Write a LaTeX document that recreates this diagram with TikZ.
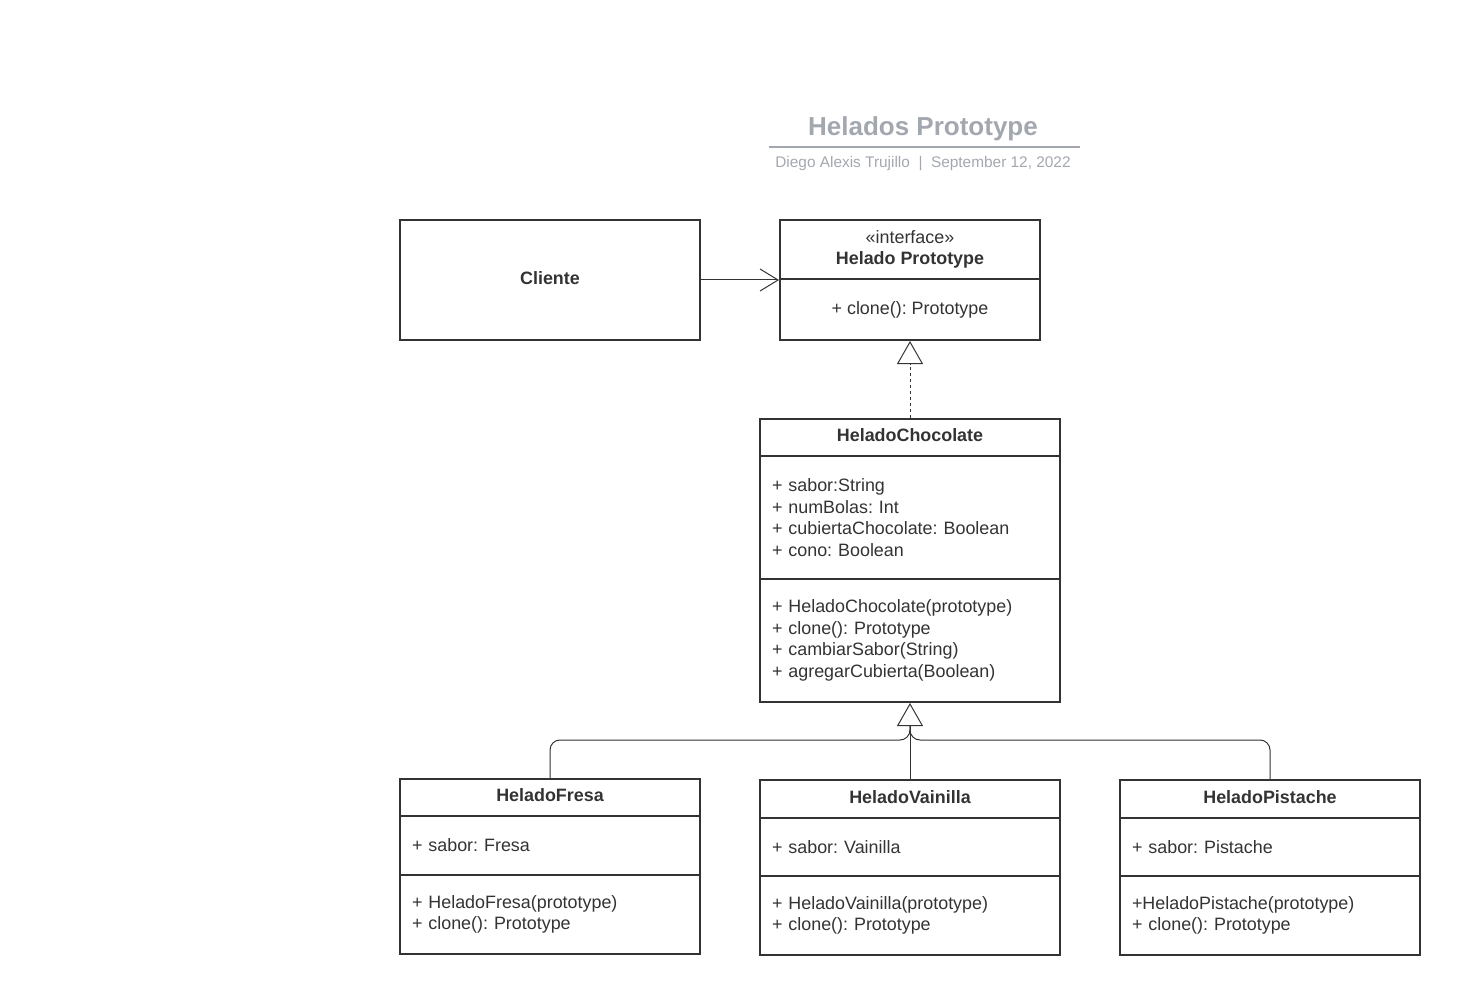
\documentclass[tikz,border=0pt]{standalone}
\usepackage{fontspec}
\setmainfont{Liberation Sans}
\frenchspacing
\usetikzlibrary{arrows.meta}
\definecolor{ink}{HTML}{333333}
\definecolor{titlegrey}{HTML}{A3A7AF}
\tikzset{
  every node/.style={text=ink, font=\fontsize{17.9}{21.6}\selectfont},
  part/.style={draw=ink, line width=2pt, minimum width=300pt, inner sep=0pt},
  head/.style={part, text depth=4pt, font=\fontsize{17.9}{21.6}\selectfont\bfseries},
  list/.style={part, text width=276pt, inner xsep=12pt, inner ysep=0pt, align=left},
  conn/.style={draw=ink, line width=1pt},
  realize/.style={-{Triangle[open, length=23pt, width=26pt]}},
}
\begin{document}
\begin{tikzpicture}[x=1pt,y=-1pt]
\useasboundingbox (0,0) rectangle (1460,995);

\node[text=titlegrey, font=\fontsize{26}{30}\selectfont\bfseries] (T1) at (923,129) {Helados Prototype};
\draw[titlegrey, line width=2pt] (769,147) -- (1080,147);
\node[text=titlegrey, font=\fontsize{15.4}{18}\selectfont] (T2) at (923,164) {Diego Alexis Trujillo \ | \ September 12, 2022};

\node[head, minimum height=120pt] (C1) at (550,280) {Cliente};

\node[head, minimum width=260pt, minimum height=59pt, align=center] (I1) at (910,249.5) {{\mdseries «interface»}\\Helado Prototype};
\node[part, minimum width=260pt, minimum height=61pt] (I2) at (910,309.5) {+ clone(): Prototype};

\node[head, minimum height=37pt] (H1) at (910,437.5) {HeladoChocolate};
\node[list, minimum height=123pt] (H2) at (910,517.5) {+ sabor:String\\+ numBolas: Int\\+ cubiertaChocolate: Boolean\\+ cono: Boolean};
\node[list, minimum height=123pt] (H3) at (910,640.5) {+ HeladoChocolate(prototype)\\+ clone(): Prototype\\+ cambiarSabor(String)\\+ agregarCubierta(Boolean)};

\node[head, minimum height=37pt] (F1) at (550,797.5) {HeladoFresa};
\node[list, minimum height=59pt] (F2) at (550,845.5) {+ sabor: Fresa};
\node[list, minimum height=79pt] (F3) at (550,914.5) {+ HeladoFresa(prototype)\\+ clone(): Prototype};

\node[head, minimum height=38pt] (V1) at (910,799) {HeladoVainilla};
\node[list, minimum height=58pt] (V2) at (910,847) {+ sabor: Vainilla};
\node[list, minimum height=79pt] (V3) at (910,915.5) {+ HeladoVainilla(prototype)\\+ clone(): Prototype};

\node[head, minimum height=38pt] (P1) at (1270,799) {HeladoPistache};
\node[list, minimum height=58pt] (P2) at (1270,847) {+ sabor: Pistache};
\node[list, minimum height=79pt] (P3) at (1270,915.5) {+HeladoPistache(prototype)\\+ clone(): Prototype};

\coordinate (J1) at (910,725);
\coordinate (J2) at (910,740);

\path[conn]
    (C1.east) edge[-{Straight Barb[length=18pt, width=22pt]}] (C1.east -| I2.west)
    (H1.north) edge[realize, dashed] (I2.south)
    (V1.north) edge[realize] (H3.south);
\draw[conn, rounded corners=10pt] (F1.north) |- (J2) -- (J1);
\draw[conn, rounded corners=10pt] (P1.north) |- (J2) -- (J1);
\end{tikzpicture}
\end{document}
